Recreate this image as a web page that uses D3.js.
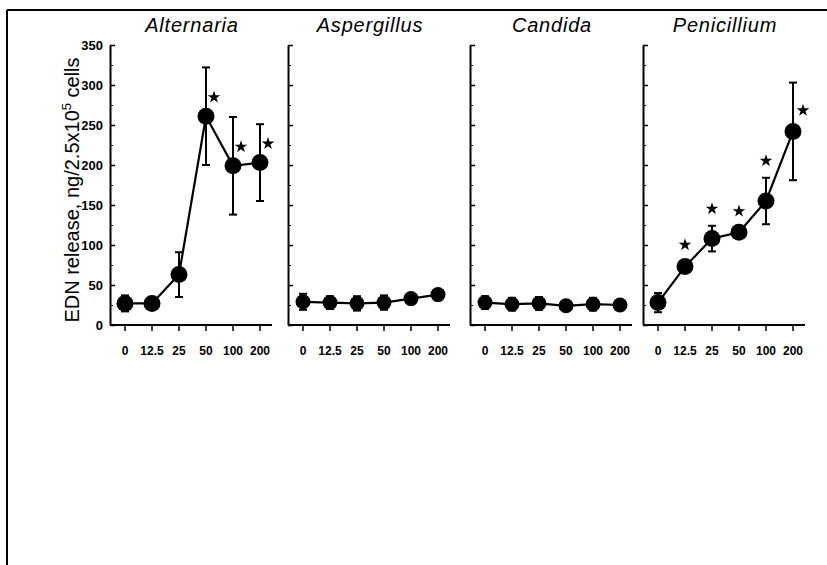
<!DOCTYPE html>
<html>
<head>
    <script src="https://d3js.org/d3.v7.min.js"></script>
    <style>
        body { margin: 0; background: #fff; }
        text { font-family: "Liberation Sans", Arial, sans-serif; fill: #000; }
    </style>
</head>
<body>
    <div id="chart"></div>
    <script>
        const doses = ["0", "12.5", "25", "50", "100", "200"];
        const panelNames = ["Alternaria", "Aspergillus", "Candida", "Penicillium"];

        const alternariaMean = [27, 27, 63, 261, 199, 203];
        const alternariaErr = [10, 5, 28, 61, 61, 48];
        const alternariaStar = [false, false, false, true, true, true];

        const aspergillusMean = [29, 28, 27, 28, 33, 38];
        const aspergillusErr = [10, 8, 9, 9, 6, 3];
        const aspergillusStar = [false, false, false, false, false, false];

        const candidaMean = [28, 26, 27, 24, 26, 25];
        const candidaErr = [8, 8, 8, 6, 8, 6];
        const candidaStar = [false, false, false, false, false, false];

        const penicilliumMean = [28, 73, 108, 116, 155, 242];
        const penicilliumErr = [12, 6, 16, 5, 29, 61];
        const penicilliumStar = [false, true, true, true, true, true];

        const yTicks = [0, 50, 100, 150, 200, 250, 300, 350];
        const yMinorTicks = [25, 75, 125, 175, 225, 275, 325];

        const width = 827, height = 565;
        const plotTop = 45, plotBottom = 325;
        const axisX = [110, 288, 470, 643];

        const panels = [
            { name: panelNames[0], mean: alternariaMean, err: alternariaErr, star: alternariaStar },
            { name: panelNames[1], mean: aspergillusMean, err: aspergillusErr, star: aspergillusStar },
            { name: panelNames[2], mean: candidaMean, err: candidaErr, star: candidaStar },
            { name: panelNames[3], mean: penicilliumMean, err: penicilliumErr, star: penicilliumStar }
        ];

        var svg = d3.select("#chart").append("svg")
            .attr("width", width)
            .attr("height", height);

        // frame (top and left only, like the scan)
        svg.append("line").attr("x1", 7).attr("x2", width).attr("y1", 10).attr("y2", 10)
            .attr("stroke", "#000").attr("stroke-width", 2);
        svg.append("line").attr("x1", 7).attr("x2", 7).attr("y1", 10).attr("y2", height)
            .attr("stroke", "#000").attr("stroke-width", 2);

        var yScale = d3.scaleLinear().domain([0, 350]).range([plotBottom, plotTop]);

        panels.forEach((p, i) => {
            var x0 = axisX[i];
            var xScale = d3.scalePoint().domain(doses).range([x0 + 15, x0 + 150]);
            var g = svg.append("g");

            // y axis, ticks pointing inward
            var yAxis = g.append("g")
                .attr("transform", "translate(" + x0 + ",0)")
                .call(d3.axisRight(yScale).tickValues(yTicks).tickSize(5).tickSizeOuter(0).tickFormat(""));
            yAxis.select(".domain").attr("stroke-width", 2);
            yAxis.selectAll(".tick line").attr("stroke-width", 1.5);
            g.append("g")
                .attr("transform", "translate(" + x0 + ",0)")
                .call(d3.axisRight(yScale).tickValues(yMinorTicks).tickSize(3).tickFormat(""))
                .call(a => a.select(".domain").remove());

            if (i === 0) {
                g.selectAll(".ylab")
                    .data(yTicks)
                    .enter().append("text")
                    .attr("x", x0 - 7)
                    .attr("y", d => yScale(d))
                    .attr("dy", "0.35em")
                    .attr("text-anchor", "end")
                    .style("font-size", "13px")
                    .style("font-weight", "bold")
                    .text(d => d);
            }

            // x axis
            g.append("line")
                .attr("x1", x0).attr("x2", x0 + 162)
                .attr("y1", plotBottom).attr("y2", plotBottom)
                .attr("stroke", "#000").attr("stroke-width", 2);
            g.selectAll(".xtick")
                .data(doses)
                .enter().append("line")
                .attr("x1", d => xScale(d)).attr("x2", d => xScale(d))
                .attr("y1", plotBottom).attr("y2", plotBottom + 6)
                .attr("stroke", "#000").attr("stroke-width", 1.5);
            g.selectAll(".xlab")
                .data(doses)
                .enter().append("text")
                .attr("x", d => xScale(d))
                .attr("y", plotBottom + 30)
                .attr("text-anchor", "middle")
                .style("font-size", "12px")
                .style("font-weight", "bold")
                .text(d => d);

            // title
            g.append("text")
                .attr("x", x0 + 82)
                .attr("y", 32)
                .attr("text-anchor", "middle")
                .style("font-size", "20px")
                .style("letter-spacing", "0.8px")
                .style("font-style", "italic")
                .text(p.name);

            var pts = doses.map((d, j) => ({ dose: d, mean: p.mean[j], err: p.err[j], star: p.star[j] }));

            // error bars
            pts.forEach(d => {
                var cx = xScale(d.dose);
                g.append("line")
                    .attr("x1", cx).attr("x2", cx)
                    .attr("y1", yScale(d.mean + d.err)).attr("y2", yScale(d.mean - d.err))
                    .attr("stroke", "#000").attr("stroke-width", 2);
                [d.mean + d.err, d.mean - d.err].forEach(v => {
                    g.append("line")
                        .attr("x1", cx - 4).attr("x2", cx + 4)
                        .attr("y1", yScale(v)).attr("y2", yScale(v))
                        .attr("stroke", "#000").attr("stroke-width", 2);
                });
            });

            // line
            g.append("path")
                .datum(pts)
                .attr("fill", "none")
                .attr("stroke", "#000")
                .attr("stroke-width", 2.2)
                .attr("d", d3.line().x(d => xScale(d.dose)).y(d => yScale(d.mean)));

            // markers
            g.selectAll(".pt")
                .data(pts)
                .enter().append("circle")
                .attr("cx", d => xScale(d.dose))
                .attr("cy", d => yScale(d.mean))
                .attr("r", i === 0 || i === 3 ? 8.5 : 7.5)
                .attr("fill", "#000");

            // significance stars
            var starPts = pts.filter(d => d.star);
            g.selectAll(".star")
                .data(starPts)
                .enter().append("path")
                .attr("d", d3.symbol().type(d3.symbolStar).size(50))
                .attr("fill", "#000")
                .attr("transform", d => {
                    var cx = xScale(d.dose), sx, sy;
                    if (i === 0) {
                        sx = cx + 8;
                        sy = yScale(d.mean) - 19;
                    } else if (d.dose === "200") {
                        sx = cx + 10;
                        sy = yScale(d.mean) - 21;
                    } else {
                        sx = cx;
                        sy = yScale(d.mean + d.err) - 17;
                    }
                    return "translate(" + sx + "," + sy + ")";
                });
        });

        // y axis label
        svg.append("text")
            .attr("transform", "translate(79," + ((plotTop + plotBottom) / 2 + 5) + ") rotate(-90)")
            .attr("text-anchor", "middle")
            .style("font-size", "20px")
            .html("EDN release, ng/2.5x10<tspan dy='-8' style='font-size:13px'>5</tspan><tspan dy='8'> cells</tspan>");
    </script>
</body>
</html>
